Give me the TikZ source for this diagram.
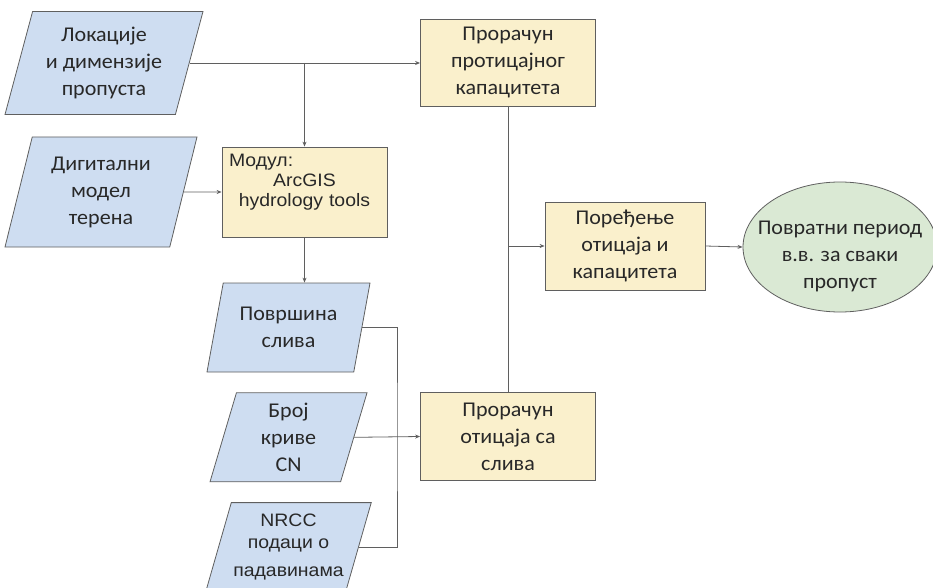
\documentclass[tikz,border=0pt]{standalone}
\usepackage{fontspec}
\setmainfont{Carlito}[FakeStretch=1.05]
\newfontfamily\arialfont{Liberation Sans}[FakeStretch=1.08]
\usepackage{tikz}
\usetikzlibrary{positioning,shapes.geometric,arrows.meta}
\definecolor{datablue}{RGB}{206,221,241}
\definecolor{procyellow}{RGB}{250,240,204}
\definecolor{resgreen}{RGB}{218,233,212}
\definecolor{edgegray}{RGB}{95,95,95}
\definecolor{textgray}{RGB}{40,40,40}
\tikzset{
  data/.style={trapezium, trapezium left angle=70, trapezium right angle=110,
    trapezium stretches body, draw=edgegray, fill=datablue, align=center,
    minimum height=89pt, inner sep=2pt},
  proc/.style={rectangle, draw=edgegray, fill=procyellow, align=center,
    minimum width=175pt, minimum height=88pt, inner sep=2pt},
  result/.style={ellipse, draw=edgegray, fill=resgreen, align=center,
    minimum width=194pt, minimum height=130pt, inner xsep=-15pt, inner ysep=-2pt},
  flow/.style={draw=edgegray, -{Stealth[length=5pt,width=4pt]}},
  link/.style={draw=edgegray}
}

\begin{document}
\begin{tikzpicture}[x=1pt, y=-1pt, line width=0.8pt, text=textgray,
    font=\fontsize{21}{27}\selectfont]
    \useasboundingbox (0,0) rectangle (933,588);
    \def\gap{20pt}

    \node (loc) [data, minimum width=198pt, minimum height=103pt] at (104,63)
        {Локације\\и димензије\\пропуста};
    \node (dem) [data, minimum width=192pt, minimum height=110pt] at (101,192)
        {Дигитални\\модел\\терена};
    \node (area) [data, minimum width=163pt] at (288.5,327.5) {Површина\\слива};
    \node (cn) [data, minimum width=157pt, below = \gap of area] {Број\\криве\\CN};
    \node (rain) [data, minimum width=165pt, below = \gap of cn,
        font=\arialfont\fontsize{18}{22}\selectfont] {NRCC\\подаци о\\[6pt]падавинама};

    \node (cap) [proc, minimum height=87pt] at (508,62.5) {Прорачун\\протицајног\\капацитета};
    \node (mod) [proc, minimum width=165pt, minimum height=90pt, text width=151pt, inner xsep=7pt,
        font=\arialfont\fontsize{18}{20}\selectfont] at (304.5,192)
        {Модул:\hfill\null\\ArcGIS\\hydrology tools\rule[-24pt]{0pt}{0pt}};
    \node (run) [proc] at (508,436.5) {Прорачун\\отицаја са\\слива};
    \node (cmp) [proc, minimum width=160pt] at (625,246) {Поређење\\отицаја и\\капацитета};
    \node (ret) [result] at (840,247) {\rule{0pt}{33pt}Повратни период\\в.в. за сваки\\пропуст};

    \coordinate (bus) at (397,436.5);

    \draw[flow] (loc.east) -- (loc.east -| cap.west);
    \draw[flow] (loc.east -| mod.north) -- (mod.north);
    \draw[flow] (dem.east) -- (mod.west);
    \draw[flow] (mod.south) -- (mod.south |- area.north);
    \draw[link] (area.east) -| (bus) |- (rain.east);
    \draw[flow] (cn.east) -- (run.west);
    \draw[link] (cap.south) -- (run.north);
    \draw[flow] (cap.south |- cmp.west) -- (cmp.west);
    \draw[flow] (cmp.east) -- (ret.west);
\end{tikzpicture}
\end{document}
